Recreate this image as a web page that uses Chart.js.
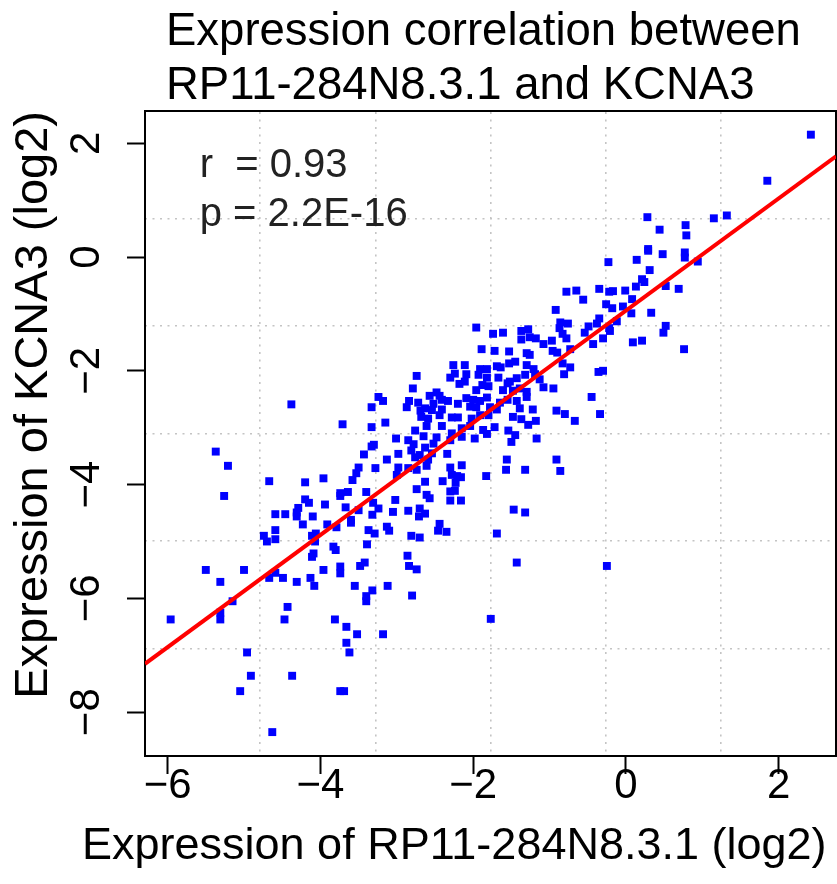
<!DOCTYPE html>
<html>
<head>
<meta charset="utf-8">
<script src="https://cdn.jsdelivr.net/npm/chart.js@4.4.1/dist/chart.umd.min.js"></script>
<style>
html,body{margin:0;padding:0;background:#fff;}
canvas{display:block;}
</style>
</head>
<body>
<canvas id="chart" width="837" height="884"></canvas>
<script>
// ---- data ----
const xTicks = [-6, -4, -2, 0, 2];
const yTicks = [-8, -6, -4, -2, 0, 2];
const xRange = [-6.296, 2.749];
const yRange = [-8.77, 2.566];
const fitX = [-6.296, 2.749];
const fitY = [-7.15, 1.77];
const statsText = ['r  = 0.93', 'p = 2.2E-16'];
const statsX = -5.58;
const statsY = [1.40, 0.55];
const titleLines = ['Expression correlation between', 'RP11-284N8.3.1 and KCNA3'];
const xTitle = 'Expression of RP11-284N8.3.1 (log2)';
const yTitle = 'Expression of KCNA3 (log2)';

// RP11-284N8.3.1 expression (x)
const rp11 = [
  2.42,1.85,1.32,1.15,0.28,0.44,0.78,0.79,0.29,0.29,
  0.48,0.77,0.77,0.94,0.14,0.31,0.21,0.24,0.13,0.52,
  0.69,-0.01,-0.17,0.08,-0.18,-0.04,0.07,0.33,-0.12,-0.22,
  0.52,
  -0.92,-0.78,-0.65,-0.56,-0.35,-0.23,-0.22,-0.26,-0.35,-0.87,
  -0.21,0.09,0.21,0.49,0.76,-0.25,
  -1.43,-1.77,-3.18,-2.86,-2.84,-2.74,-3.12,-2.80,
  -5.96,-5.50,-5.31,-5.00,-5.15,-5.31,-5.31,-4.96,-4.91,-5.05,
  -4.63,-4.37,-4.43,-4.47,-4.74,-4.70,-4.59,-4.59,-4.67,-4.59,
  -4.49,-4.31,-4.11,-4.09,-4.11,-4.07,-4.06,-3.96,-4.13,-4.08,
  -3.83,-3.80,-3.74,-3.74,-3.55,-3.48,-3.42,-3.39,-3.37,-3.40,
  -3.40,-3.32,-3.81,-3.66,-3.52,-3.66,-3.62,-3.74,-3.69,
  -5.37,-5.21,-5.26,-4.38,-4.67,-4.59,-4.46,-4.20,-3.96,-4.20,
  -4.15,-4.29,-4.31,-4.31,-4.10,-4.23,-3.94,-3.91,-3.79,-3.74,
  -3.74,-3.64,-3.67,-3.60,-3.60,-3.50,-3.40,-3.58,-3.53,-3.50,
  -3.43,-3.33,-3.30,-3.28,-3.71,-3.33,-3.33,-3.31,-3.24,-3.32,
  -1.96,-1.74,-1.61,-1.37,-1.28,-1.37,-1.26,-1.18,-1.08,-0.97,
  -0.86,-0.76,-0.83,-0.78,-0.96,-0.90,-0.73,-0.54,-0.49,-0.38,
  -0.43,-0.30,-1.89,-1.72,-1.53,-1.30,-1.26,-2.26,-2.11,-1.91,
  -1.82,-1.69,-1.64,-1.53,-1.45,-1.30,-1.21,-0.83,-0.73,-2.74,
  -2.30,-2.24,-2.09,-1.93,-1.82,-1.67,-1.52,-1.43,-1.32,-1.19,
  -1.13,-0.81,-0.36,-0.30,-2.79,-2.48,-2.44,-2.57,-2.18,-2.11,
  -1.96,-1.88,-1.80,-1.61,-1.55,-1.48,-1.39,-1.30,-1.08,-0.95,
  -3.24,-3.18,-2.84,-2.72,-2.87,-2.63,-2.52,-2.41,-2.33,-2.09,
  -2.00,-1.91,-1.82,-1.65,-1.55,-1.43,-1.30,-0.45,-2.69,-2.54,
  -2.41,-2.20,-2.04,-1.96,-1.78,-1.69,-1.39,-1.22,-0.91,-0.80,
  -0.34,-3.15,-2.68,-2.59,-2.44,-2.28,-2.20,-2.02,-1.91,-1.80,
  -1.48,-1.37,-1.18,-0.67,-2.76,-2.61,-2.41,-2.28,-2.15,-2.04,
  -1.87,-1.72,-1.54,-1.45,-1.28,-3.01,-2.85,-2.65,-2.48,-2.30,
  -2.15,-1.98,-1.82,-1.50,-1.17,-2.78,-2.63,-2.52,-2.81,-2.70,
  -2.54,-3.13,-2.98,-2.76,-2.59,-2.34,-1.56,-0.91,-2.98,-2.85,
  -2.74,-2.61,-2.30,-2.15,-1.57,-1.32,-0.86,-3.00,-2.28,-2.21,
  -2.16,-1.83,-2.63,-2.40,-2.23,-2.74,-2.61,-2.30,-2.24,-2.57,
  -3.02,-2.30,-2.16,-2.70,-2.85,-3.05,-2.63,-2.71,-1.47,-1.32,
  -3.13,-3.10,-3.29,-2.81,-2.70,-2.44,-2.46,-2.35,-1.69
];
// KCNA3 expression (y)
const kcna3 = [
  2.15,1.34,0.73,0.68,0.70,0.48,0.56,0.38,0.14,0.11,
  0.05,0.08,-0.01,-0.08,-0.05,-0.23,-0.39,-0.44,-0.52,-0.51,
  -0.56,-0.59,-0.60,-0.74,-0.90,-0.87,-0.99,-0.98,-1.13,-1.25,
  -1.21,
  -0.93,-0.61,-0.59,-0.75,-0.56,-0.09,-0.61,-0.83,-1.08,-1.25,
  -1.30,-1.50,-1.47,-1.33,-1.62,-5.43,
  -5.37,-6.36,-6.63,-5.25,-5.43,-5.49,-5.78,-5.95,
  -6.37,-5.50,-5.71,-5.50,-6.05,-6.25,-6.37,-6.95,-7.36,-7.63,
  -8.35,-7.36,-6.15,-6.37,-4.90,-5.00,-4.96,-4.80,-5.64,-5.55,
  -5.64,-5.71,-4.90,-5.21,-5.27,-5.00,-4.86,-5.50,-5.64,-5.78,
  -5.09,-5.15,-5.44,-5.56,-5.78,-5.43,-5.37,-5.05,-4.80,-5.96,
  -6.05,-5.86,-6.37,-6.50,-6.63,-6.78,-6.95,-7.63,-7.63,
  -3.42,-3.67,-4.20,-2.59,-3.94,-4.52,-4.52,-3.96,-3.89,-4.26,
  -4.32,-4.41,-4.49,-4.56,-4.56,-4.70,-4.35,-4.70,-4.75,-4.15,
  -4.20,-4.13,-4.40,-4.62,-4.67,-4.45,-4.13,-3.92,-3.80,-3.70,
  -3.47,-3.33,-3.30,-3.71,-2.94,-2.64,-2.99,-4.32,-4.42,-4.53,
  -1.24,-1.35,-1.33,-1.30,-1.27,-1.45,-1.41,-1.43,-1.53,-1.47,
  -1.15,-1.17,-1.35,-1.43,-1.65,-1.68,-1.62,-1.33,-1.22,-1.17,
  -1.53,-1.43,-1.62,-1.65,-1.66,-1.69,-1.72,-1.90,-1.90,-1.97,
  -1.97,-1.92,-1.94,-1.87,-1.84,-1.90,-1.97,-1.87,-1.94,-2.09,
  -2.12,-2.05,-2.06,-2.07,-2.12,-2.12,-2.19,-2.13,-2.07,-2.06,
  -2.15,-2.06,-2.02,-2.00,-2.31,-2.38,-2.44,-2.44,-2.23,-2.19,
  -2.34,-2.25,-2.27,-2.34,-2.22,-2.35,-2.31,-2.37,-2.29,-2.31,
  -2.46,-2.53,-2.53,-2.56,-2.64,-2.66,-2.58,-2.51,-2.53,-2.48,
  -2.51,-2.53,-2.47,-2.56,-2.51,-2.53,-2.46,-2.46,-2.70,-2.69,
  -2.68,-2.58,-2.63,-2.64,-2.64,-2.68,-2.66,-2.68,-2.70,-2.76,
  -2.76,-2.91,-2.81,-2.84,-2.78,-2.82,-2.82,-2.84,-2.78,-2.78,
  -2.81,-2.85,-2.88,-2.88,-3.05,-2.97,-2.97,-3.10,-3.01,-2.97,
  -3.04,-2.99,-3.05,-3.13,-2.95,-3.19,-3.22,-3.15,-3.17,-3.22,
  -3.16,-3.19,-3.11,-3.25,-3.19,-3.29,-3.35,-3.28,-3.40,-3.48,
  -3.45,-3.56,-3.46,-3.52,-3.56,-3.46,-3.56,-3.56,-3.70,-3.71,
  -3.74,-3.67,-3.70,-3.66,-3.74,-3.74,-3.76,-3.83,-3.83,-3.85,
  -3.87,-3.85,-3.95,-3.94,-3.97,-4.08,-4.18,-4.12,-4.11,-4.24,
  -4.27,-4.28,-4.28,-4.42,-4.46,-4.48,-4.51,-4.56,-4.44,-4.49,
  -4.74,-4.81,-4.86,-4.90,-4.93,-4.69,-4.81,-4.83,-4.86
];

// ---- chart ----
const FAMILY = '"Liberation Sans", Arial, Helvetica, sans-serif';
const fmt = v => (v < 0 ? '\u2212' + Math.abs(v) : String(v));
const gridDivisions = (range) => [1, 2, 3, 4, 5].map(k => ({ value: range[0] + k * (range[1] - range[0]) / 6 }));

const statsPlugin = {
  id: 'statsText',
  afterDatasetsDraw(chart) {
    const { ctx, scales } = chart;
    ctx.save();
    ctx.font = '40px ' + FAMILY;
    ctx.fillStyle = '#222';
    ctx.textAlign = 'left';
    ctx.textBaseline = 'alphabetic';
    statsText.forEach((t, i) => {
      ctx.fillText(t, scales.x.getPixelForValue(statsX), scales.y.getPixelForValue(statsY[i]));
    });
    ctx.restore();
  }
};
// left-align the two title blocks (main title and x-axis caption) like the reference
const titleShift = {
  id: 'titleShift',
  afterLayout(chart) {
    const main = chart.titleBlock;
    if (!main) return;
    main.left = 166;
    chart.boxes.forEach(b => {
      if (b !== main && b.constructor === main.constructor && b.options && b.options.position === 'bottom') {
        b.left = 82;
      }
    });
  }
};

new Chart(document.getElementById('chart'), {
  type: 'scatter',
  data: {
    datasets: [
      {
        data: fitX.map((v, i) => ({ x: v, y: fitY[i] })),
        showLine: true,
        borderColor: '#ff0000',
        borderWidth: 4,
        pointRadius: 0,
        fill: false
      },
      {
        data: rp11.map((v, i) => ({ x: v, y: kcna3[i] })),
        pointStyle: 'rect',
        pointRadius: 5.6,
        backgroundColor: '#0000ff',
        borderWidth: 0
      }
    ]
  },
  options: {
    responsive: false,
    animation: false,
    devicePixelRatio: 1,
    layout: { padding: 0, autoPadding: false },
    plugins: {
      legend: { display: false },
      tooltip: { enabled: false },
      title: {
        display: true,
        text: titleLines,
        align: 'start',
        color: '#000',
        font: { family: FAMILY, size: 45.5, weight: 'normal', lineHeight: 1.2 },
        padding: { top: 4.9, bottom: -3.1 }
      },
      subtitle: {
        display: true,
        position: 'bottom',
        text: xTitle,
        align: 'start',
        color: '#000',
        font: { family: FAMILY, size: 45, weight: 'normal', lineHeight: 1.2 },
        padding: { top: 0, bottom: 10.6 }
      }
    },
    scales: {
      x: {
        type: 'linear', position: 'bottom', min: xRange[0], max: xRange[1],
        afterBuildTicks: s => { s.ticks = xTicks.map(v => ({ value: v })); },
        afterFit: s => { s.height = 63.4; },
        border: { display: true, color: '#000', width: 2 },
        grid: { drawOnChartArea: false, drawTicks: true, tickLength: 18, tickWidth: 2, tickColor: '#000', color: '#000' },
        ticks: { autoSkip: false, color: '#000', maxRotation: 0, minRotation: 0, padding: 1.9,
                 font: { family: FAMILY, size: 42, lineHeight: 0.5 }, callback: fmt }
      },
      y: {
        type: 'linear', position: 'left', min: yRange[0], max: yRange[1],
        afterBuildTicks: s => { s.ticks = yTicks.map(v => ({ value: v })); },
        afterFit: s => { s.width = 145; },
        border: { display: true, color: '#000', width: 2 },
        grid: { drawOnChartArea: false, drawTicks: true, tickLength: 18, tickWidth: 2, tickColor: '#000', color: '#000' },
        ticks: { autoSkip: false, color: '#000', minRotation: 90, maxRotation: 90, crossAlign: 'center', padding: 16.1,
                 font: { family: FAMILY, size: 42 }, callback: fmt },
        title: { display: true, text: yTitle, align: 'end', color: '#000',
                 font: { family: FAMILY, size: 47, lineHeight: 1.2 }, padding: { top: 5.5, bottom: 0 } }
      },
      xg: {
        type: 'linear', position: 'top', min: xRange[0], max: xRange[1],
        afterBuildTicks: s => { s.ticks = gridDivisions(xRange); },
        afterFit: s => { s.height = 0; },
        ticks: { display: false },
        grid: { drawOnChartArea: true, drawTicks: false, color: '#c4c4c4', lineWidth: 1.6 },
        border: { display: true, color: '#000', width: 2, dash: [2, 5.5] }
      },
      yg: {
        type: 'linear', position: 'right', min: yRange[0], max: yRange[1],
        afterBuildTicks: s => { s.ticks = gridDivisions(yRange); },
        afterFit: s => { s.width = 1; },
        ticks: { display: false },
        grid: { drawOnChartArea: true, drawTicks: false, color: '#c4c4c4', lineWidth: 1.6 },
        border: { display: true, color: '#000', width: 2, dash: [2, 5.5] }
      }
    }
  },
  plugins: [statsPlugin, titleShift]
});
</script>
</body>
</html>
